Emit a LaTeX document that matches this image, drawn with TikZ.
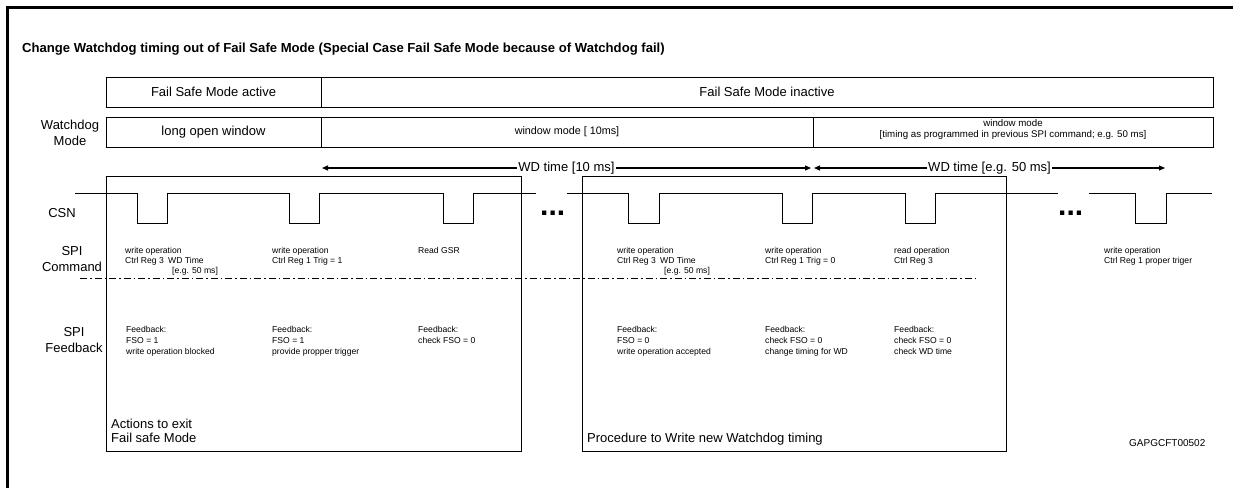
\documentclass[tikz,border=0pt]{standalone}
\usepackage{fontspec}
\setmainfont{Liberation Sans}
\usetikzlibrary{arrows.meta}
\newcommand\FzTitle{\fontsize{13.1}{15}\bfseries\selectfont}
\newcommand\FzBig{\fontsize{13}{15.5}\selectfont}
\newcommand\FzMid{\fontsize{10.8}{10.5}\selectfont}
\newcommand\FzMidS{\fontsize{9.7}{10.5}\selectfont}
\newcommand\FzCmd{\fontsize{8.6}{10}\selectfont}
\newcommand\FzFb{\fontsize{8.6}{11}\selectfont}
\newcommand\FzId{\fontsize{10}{12}\selectfont}
\newcommand\FzDots{\fontsize{30}{30}\bfseries\selectfont}
\begin{document}
\begin{tikzpicture}[x=1pt,y=-1pt,
  thinln/.style={line width=0.8pt},
  cell/.style={draw,line width=0.8pt,inner sep=0pt,minimum height=30pt,font=\FzBig},
  cmdtxt/.style={inner sep=0pt,anchor=north west,align=left,font=\FzCmd},
  fbtxt/.style={inner sep=0pt,anchor=north west,align=left,font=\FzFb},
  rowlbl/.style={inner sep=0pt,align=center,font=\FzBig},
  wdarrow/.style={line width=1.1pt,{Triangle[length=6pt,width=5pt]}-{Triangle[length=6pt,width=5pt]}},
  arrlbl/.style={fill=white,inner xsep=1pt,inner ysep=1pt,font=\FzBig},
  dotstxt/.style={inner sep=0pt,anchor=base west,font=\FzDots},
]
\useasboundingbox (0,0) rectangle (1233,488);
% frame
\draw[line width=3pt] (7,488) -- (7,7) -- (1233,7);
\node[anchor=base west,inner sep=0pt,font=\FzTitle] (title) at (22,52.5)
  {Change Watchdog timing out of Fail Safe Mode (Special Case Fail Safe Mode because of Watchdog fail)};

% row 1
\node[cell,minimum width=215pt] (fsa) at (213.5,92) {Fail Safe Mode active};
\node[cell,minimum width=892pt] (fsi) at (767,92) {Fail Safe Mode inactive};

% row 2
\node[rowlbl] (wdl) at (70,133) {Watchdog\\Mode};
\node[cell,minimum width=215pt] (low) at (213.5,132) {long open window};
\node[cell,minimum width=492pt,font=\FzMid] (wm10) at (567,132) {window mode [ 10ms]};
\node[cell,minimum width=400pt] (wm50) at (1013,132) {};
\node[inner sep=0pt,align=center,font=\FzMidS] (wm50t) at (1013,129.5)
  {window mode\\{[}timing as programmed in previous SPI command; e.g. 50 ms{]}};

% WD time arrows
\coordinate (a1s) at (322,168);
\coordinate (a1e) at (811,168);
\coordinate (a2s) at (814,168);
\coordinate (a2e) at (1165,168);
\draw[wdarrow] (a1s) -- node[arrlbl] (wd1) {WD time [10 ms]} (a1e);
\draw[wdarrow] (a2s) -- node[arrlbl] (wd2) {WD time [e.g. 50 ms]} (a2e);

% procedure boxes
\node[draw,thinln,inner sep=0pt,minimum width=415pt,minimum height=275pt] (act) at (313.5,313.5) {};
\node[draw,thinln,inner sep=0pt,minimum width=424pt,minimum height=275pt] (proc) at (794,313.5) {};

% row labels
\node[rowlbl] (csn) at (62,213) {CSN};
\node[rowlbl] (spic) at (72,259) {SPI\\Command};
\node[rowlbl] (spif) at (74,340) {SPI\\Feedback};

% CSN waveform
\draw[thinln] (75,193) -- (137,193) -- (137,223) -- (167,223) -- (167,193)
  -- (289,193) -- (289,223) -- (319,223) -- (319,193)
  -- (443,193) -- (443,223) -- (473,223) -- (473,193) -- (536,193);
\draw[thinln] (567,193) -- (628,193) -- (628,223) -- (659,223) -- (659,193)
  -- (782,193) -- (782,223) -- (812,223) -- (812,193)
  -- (905,193) -- (905,223) -- (935,223) -- (935,193) -- (1058,193);
\draw[thinln] (1089,193) -- (1135,193) -- (1135,223) -- (1166,223) -- (1166,193) -- (1212,193);
\node[dotstxt] (dots1) at (540,215) {...};
\node[dotstxt] (dots2) at (1058,215) {...};

% separator
\draw[thinln,dash pattern=on 7pt off 3pt on 1.5pt off 3pt] (80,278) -- (975,278);

% SPI commands
\node[cmdtxt] (c1) at (125,246.7) {write operation\\Ctrl Reg 3};
\node[cmdtxt] (c1b) at (168,256.7) {WD Time};
\node[cmdtxt] (c1c) at (172,266.7) {[e.g. 50 ms]};
\node[cmdtxt] (c2) at (272,246.7) {write operation\\Ctrl Reg 1 Trig = 1};
\node[cmdtxt] (c3) at (418,246.7) {Read GSR};
\node[cmdtxt] (c4) at (617,246.7) {write operation\\Ctrl Reg 3};
\node[cmdtxt] (c4b) at (660,256.7) {WD Time};
\node[cmdtxt] (c4c) at (664,266.7) {[e.g. 50 ms]};
\node[cmdtxt] (c5) at (765,246.7) {write operation\\Ctrl Reg 1 Trig = 0};
\node[cmdtxt] (c6) at (894,246.7) {read operation\\Ctrl Reg 3};
\node[cmdtxt] (c7) at (1104,246.7) {write operation\\Ctrl Reg 1 proper triger};

% SPI feedback
\node[fbtxt] (f1) at (126,325.7) {Feedback:\\FSO = 1\\write operation blocked};
\node[fbtxt] (f2) at (272,325.7) {Feedback:\\FSO = 1\\provide propper trigger};
\node[fbtxt] (f3) at (418,325.7) {Feedback:\\check FSO = 0};
\node[fbtxt] (f4) at (617,325.7) {Feedback:\\FSO = 0\\write operation accepted};
\node[fbtxt] (f5) at (765,325.7) {Feedback:\\check FSO = 0\\change timing for WD};
\node[fbtxt] (f6) at (894,325.7) {Feedback:\\check FSO = 0\\check WD time};

% box captions
\node[inner sep=0pt,anchor=north west,align=left,font=\fontsize{13}{14}\selectfont] (actl) at (111,419)
  {Actions to exit\\Fail safe Mode};
\node[inner sep=0pt,anchor=base west,font=\FzBig] (procl) at (587,442.5)
  {Procedure to Write new Watchdog timing};
\node[inner sep=0pt,anchor=base west,font=\FzId] (gid) at (1129,446.6) {GAPGCFT00502};
\end{tikzpicture}
\end{document}
